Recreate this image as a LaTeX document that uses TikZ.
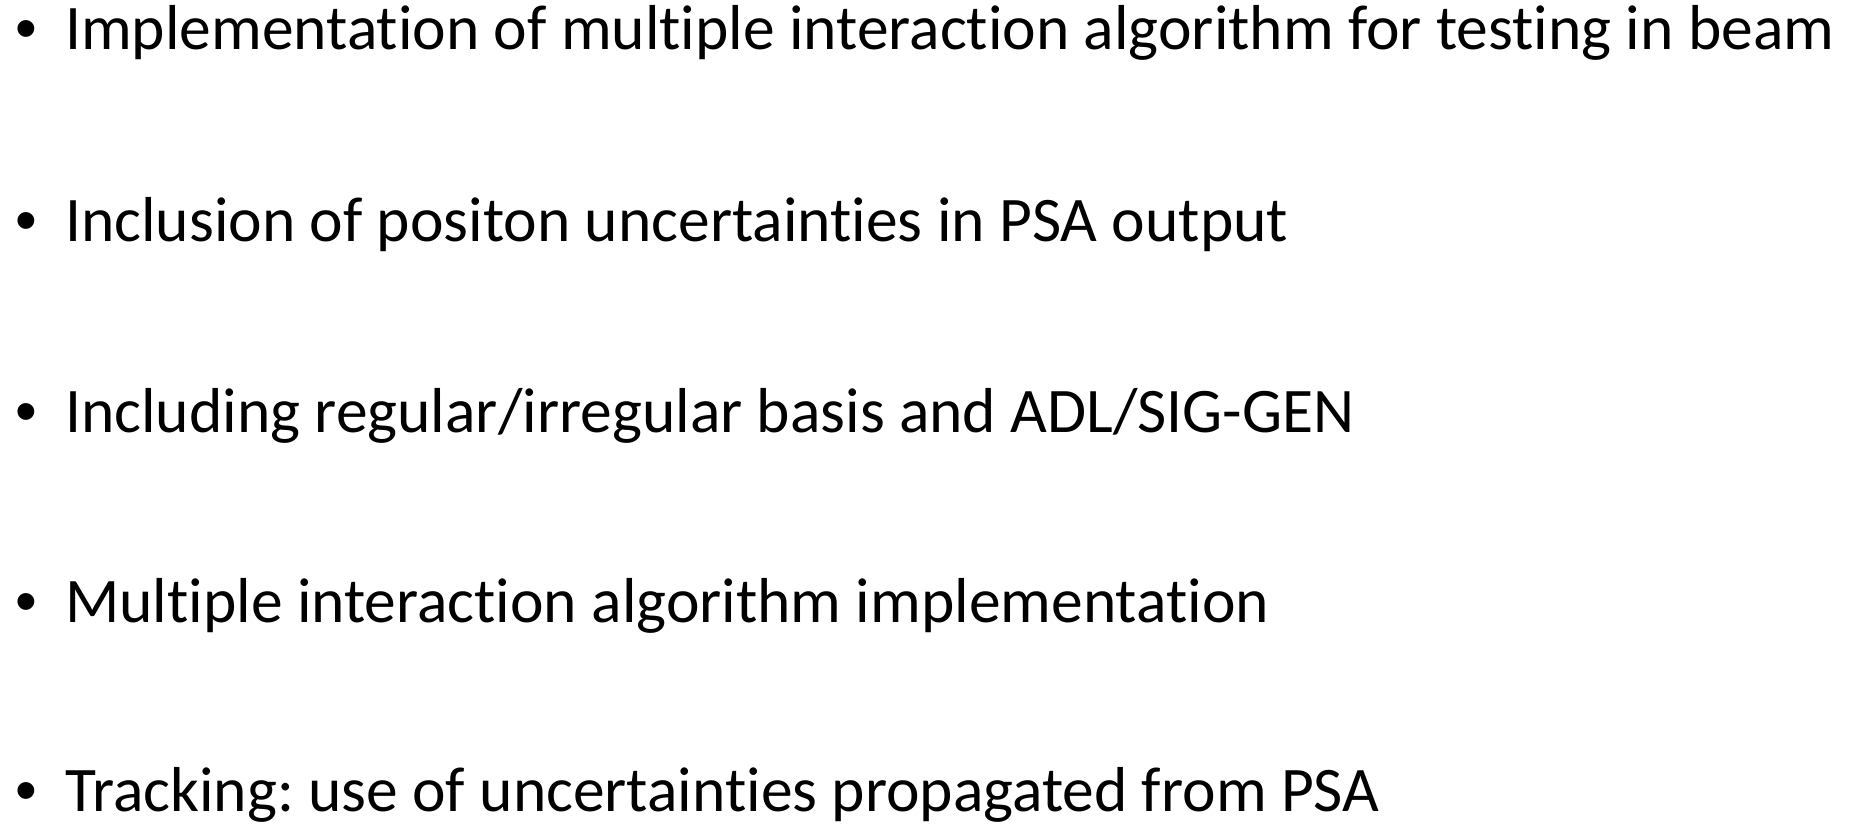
\documentclass[tikz,border=0pt]{standalone}
\usepackage{fontspec}
\setmainfont{Carlito}[Ligatures={NoCommon}]
\newfontfamily\bulletfont{Liberation Sans}
\frenchspacing
\begin{document}
\begin{tikzpicture}[x=1pt,y=-1pt,
  item/.style={anchor=base west,inner sep=0pt,font=\fontsize{63.5}{63.5}\selectfont},
  dot/.style={anchor=base west,inner sep=0pt,font=\bulletfont\fontsize{62}{62}\selectfont}]
\useasboundingbox (0,0) rectangle (1850,829);
\node[dot] (b1) at (15,50) {•};
\node[item] (t1) at (65,50) {Implementation of multiple interaction algorithm for testing in beam};
\node[dot] (b2) at (15,241) {•};
\node[item] (t2) at (65,241) {Inclusion of positon uncertainties in PSA output};
\node[dot] (b3) at (15,432) {•};
\node[item] (t3) at (65,432) {Including regular/irregular basis and ADL/SIG-GEN};
\node[dot] (b4) at (15,622) {•};
\node[item] (t4) at (65,622) {Multiple interaction algorithm implementation};
\node[dot] (b5) at (15,811) {•};
\node[item] (t5) at (65,811) {Tracking: use of uncertainties propagated from PSA};
\end{tikzpicture}
\end{document}
